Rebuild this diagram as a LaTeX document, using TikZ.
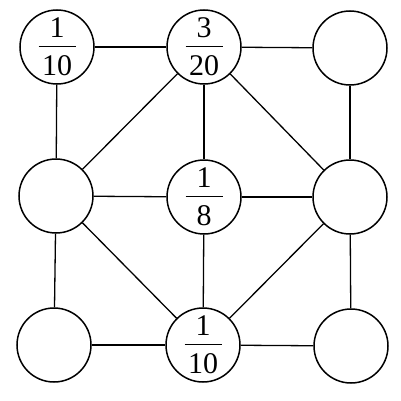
\documentclass[tikz,border=0pt]{standalone}
\usepackage{fontspec}
\setmainfont{Liberation Serif}
\newcommand\myfrac[2]{{\renewcommand\arraystretch{0.1}\setlength\arrayrulewidth{1.4pt}%
\begin{tabular}{@{}c@{}}\rule[-8pt]{0pt}{21pt}\makebox[37pt]{#1}\\\hline\rule[-1pt]{0pt}{29pt}\makebox[37pt]{#2}\end{tabular}}}
\tikzset{
  cnode/.style={circle,draw,line width=1.5pt,minimum size=74pt,inner sep=0pt,
    font=\fontsize{30}{36}\selectfont},
  edge/.style={line width=1.3pt}
}
\begin{document}
\begin{tikzpicture}[x=1pt,y=1pt]
\useasboundingbox (0,0) rectangle (401,400);
\node[cnode] (tl) at (57,353) {\myfrac{1}{10}};
\node[cnode] (tm) at (204,353) {\myfrac{3}{20}};
\node[cnode] (tr) at (350,352) {};
\node[cnode] (ml) at (56,204) {};
\node[cnode] (mc) at (204,203) {\myfrac{1}{8}};
\node[cnode] (mr) at (350,203) {};
\node[cnode] (bl) at (54,55) {};
\node[cnode] (bm) at (203,55) {\myfrac{1}{10}};
\node[cnode] (br) at (351,54) {};
\draw[edge] (tl) -- (tm);
\draw[edge] (tm) -- (tr);
\draw[edge] (ml) -- (mc);
\draw[edge] (mc) -- (mr);
\draw[edge] (bl) -- (bm);
\draw[edge] (bm) -- (br);
\draw[edge] (tl) -- (ml);
\draw[edge] (ml) -- (bl);
\draw[edge] (tm) -- (mc);
\draw[edge] (mc) -- (bm);
\draw[edge] (tr) -- (mr);
\draw[edge] (mr) -- (br);
\draw[edge] (tm) -- (ml);
\draw[edge] (tm) -- (mr);
\draw[edge] (ml) -- (bm);
\draw[edge] (mr) -- (bm);
\end{tikzpicture}
\end{document}
